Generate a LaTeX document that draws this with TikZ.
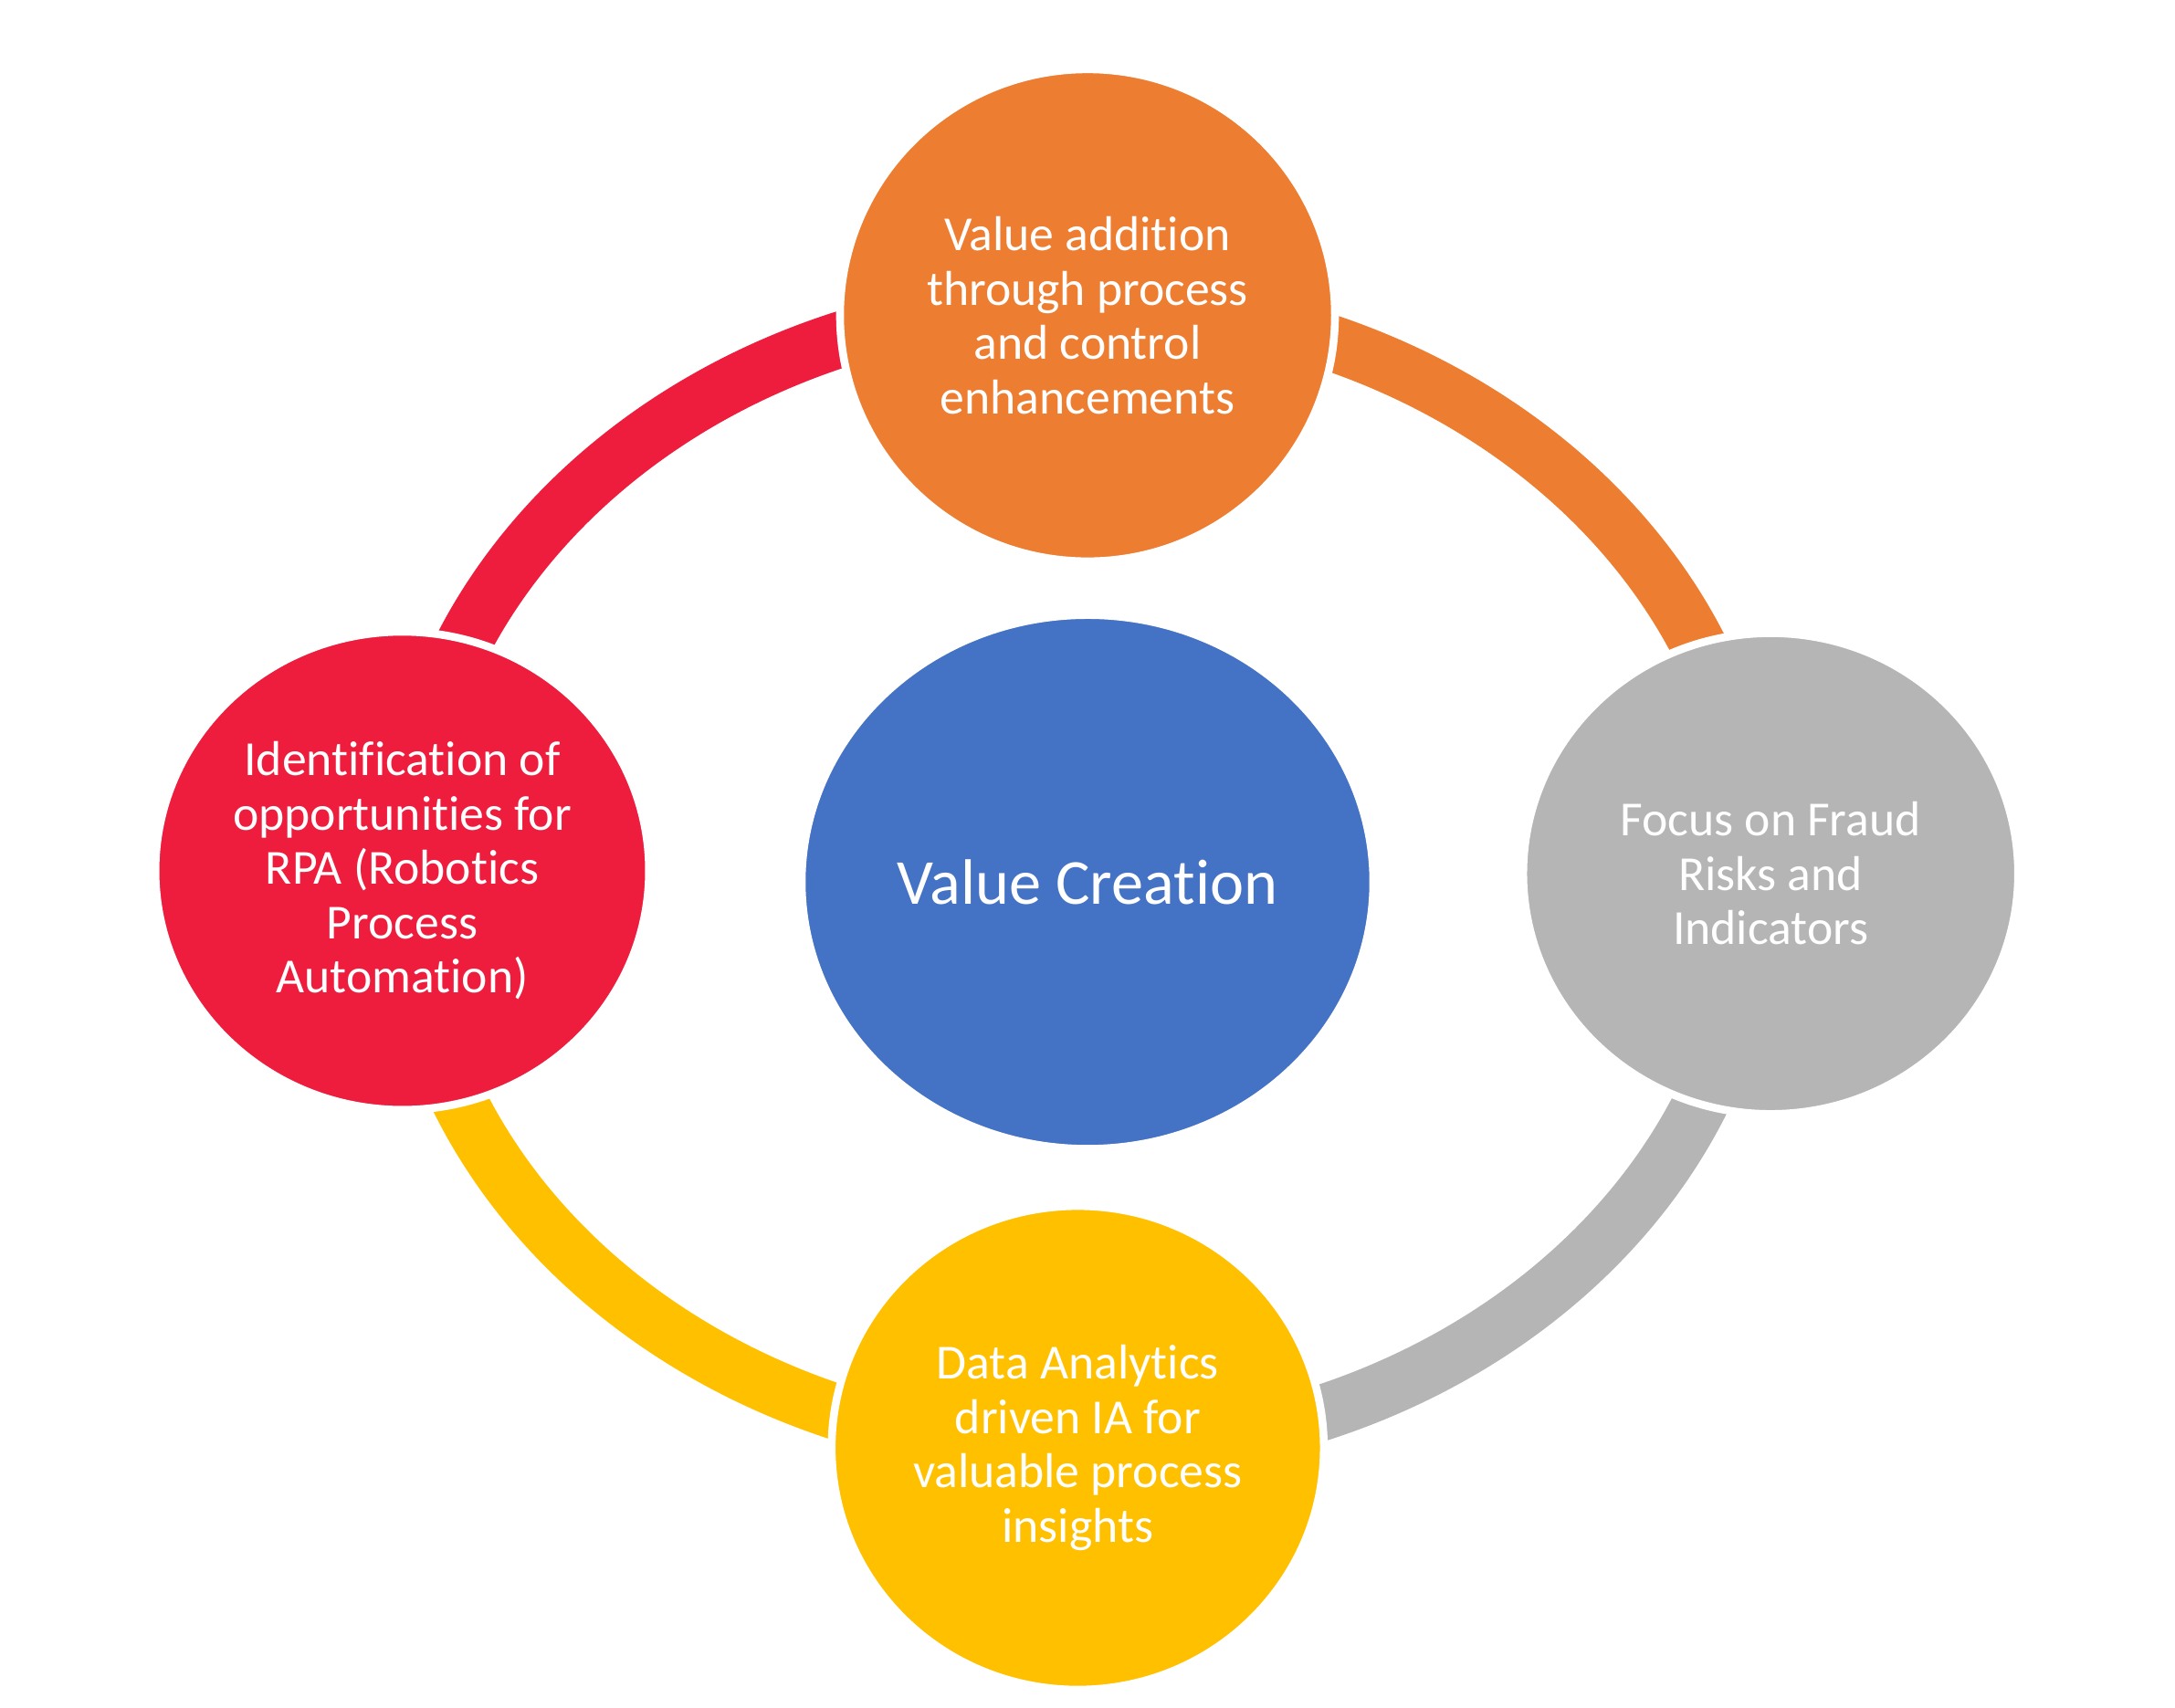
\documentclass[tikz,border=0pt]{standalone}
\usepackage{fontspec}
\setmainfont[Ligatures=NoCommon]{Carlito}
\usetikzlibrary{shapes.geometric}
\definecolor{vcred}{HTML}{EE1C3D}
\definecolor{vcorange}{HTML}{ED7D31}
\definecolor{vcgray}{HTML}{B5B5B5}
\definecolor{vcyellow}{HTML}{FFC000}
\definecolor{vcblue}{HTML}{4472C4}
\tikzset{
	bubble/.style={ellipse, inner sep=0pt, draw=white, line width=1.6pt, text=white, align=center, font=\fontsize{10}{11.1}\selectfont},
	band/.style={line width=0.4cm},
}
\begin{document}
\begin{tikzpicture}
			%%%%% START %%%%%
			\useasboundingbox (-7.79, -5.92) rectangle (7.81, 6.327);
			\coordinate (ring) at (-0.04, 0.04);
			
			% ring segments, each from one bubble to the next
			\draw[band, vcred] (ring) ++(180:4.84 and 4.12) arc[start angle=180, end angle=90, x radius=4.84, y radius=4.12];
			\draw[band, vcorange] (ring) ++(90:4.84 and 4.12) arc[start angle=90, end angle=0, x radius=4.84, y radius=4.12];
			\draw[band, vcgray] (ring) ++(0:4.84 and 4.12) arc[start angle=0, end angle=-90, x radius=4.84, y radius=4.12];
			\draw[band, vcyellow] (ring) ++(-90:4.84 and 4.12) arc[start angle=-90, end angle=-180, x radius=4.84, y radius=4.12];
			
			% centre
			\node[bubble, fill=vcblue, minimum width=4.1cm, minimum height=3.83cm, font=\fontsize{13.1}{16}\selectfont] (value) at (0.01, 0) {Value Creation};
			
			% outer bubbles
			\node[bubble, fill=vcorange, minimum width=3.55cm, minimum height=3.53cm] (addition) at (0.01, 4.065) {Value addition\\through process\\and control\\enhancements};
			\node[bubble, fill=vcgray, minimum width=3.55cm, minimum height=3.45cm] (fraud) at (4.91, 0.06) {Focus on Fraud\\Risks and\\Indicators};
			\node[bubble, fill=vcyellow, minimum width=3.53cm, minimum height=3.47cm] (analytics) at (-0.06, -4.06) {Data Analytics\\driven IA for\\valuable process\\insights};
			\node[bubble, fill=vcred, minimum width=3.54cm, minimum height=3.43cm] (rpa) at (-4.905, 0.08) {Identification of\\opportunities for\\RPA (Robotics\\Process\\Automation)};
			
			%%%%% END %%%%%
\end{tikzpicture}
\end{document}
